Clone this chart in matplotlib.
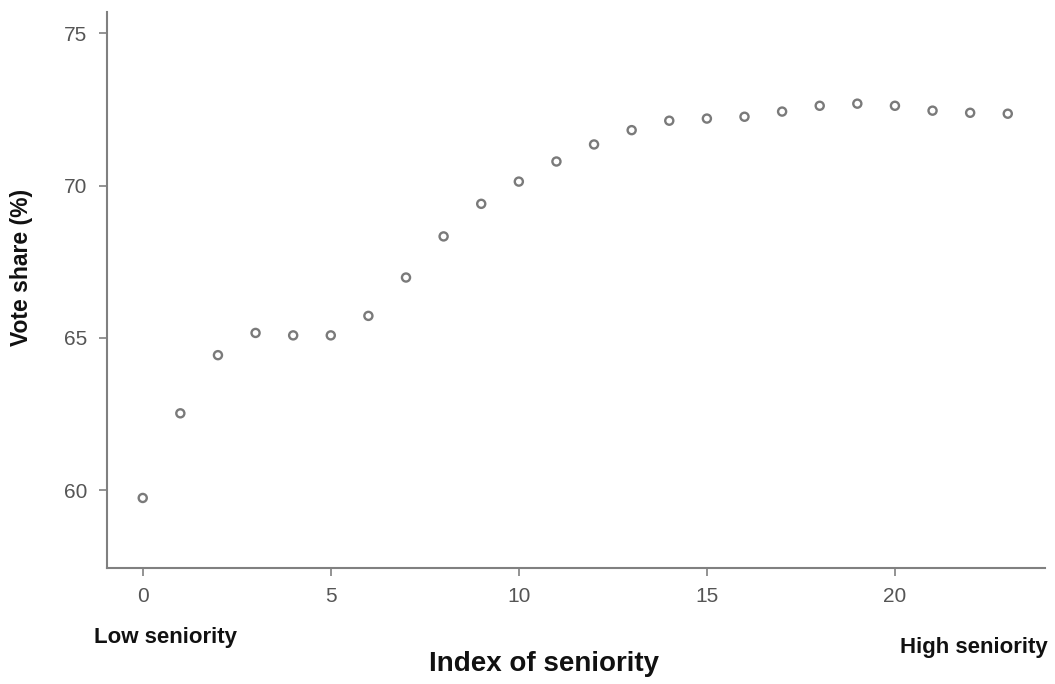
import matplotlib.pyplot as plt

plt.rcParams['font.family'] = ['Liberation Sans', 'DejaVu Sans']

# seniority index and mean vote share
seniority = list(range(24))
vote_share = [59.74, 62.52, 64.43, 65.16, 65.08, 65.08, 65.72, 66.98, 68.33, 69.40,
              70.13, 70.79, 71.35, 71.82, 72.13, 72.20, 72.26, 72.43, 72.62, 72.69,
              72.62, 72.46, 72.39, 72.36]

x_ticks = [0, 5, 10, 15, 20]
y_ticks = [60, 65, 70, 75]

fig = plt.figure(figsize=(10.55, 6.84), dpi=100)
ax = fig.add_axes([107 / 1055, 1 - 568 / 684, (1045 - 107) / 1055, (568 - 12) / 684])

ax.scatter(seniority, vote_share, s=34, facecolors='none', edgecolors='#7a7a7a', linewidths=1.7)

ax.set_xlim(-0.95, 23.99)
ax.set_ylim(57.44, 75.7)
ax.set_xticks(x_ticks)
ax.set_yticks(y_ticks)

for side in ['top', 'right']:
    ax.spines[side].set_visible(False)
for side in ['left', 'bottom']:
    ax.spines[side].set_color('#808080')
    ax.spines[side].set_linewidth(1.5)

ax.tick_params(colors='#808080', labelcolor='#555555', labelsize=15, length=6, width=1.2, pad=8)

fig.text(22 / 1055, 1 - 267 / 684, 'Vote share (%)', fontsize=16.5, fontweight='bold',
         color='#111111', ha='center', va='center', rotation=90)
fig.text(544 / 1055, 1 - 664 / 684, 'Index of seniority', fontsize=20, fontweight='bold',
         color='#111111', ha='center', va='center')
fig.text(165 / 1055, 1 - 637 / 684, 'Low seniority', fontsize=16, fontweight='bold',
         color='#111111', ha='center', va='center')
fig.text(974 / 1055, 1 - 648 / 684, 'High seniority', fontsize=16, fontweight='bold',
         color='#111111', ha='center', va='center')

fig.savefig('out.png', dpi=100)
